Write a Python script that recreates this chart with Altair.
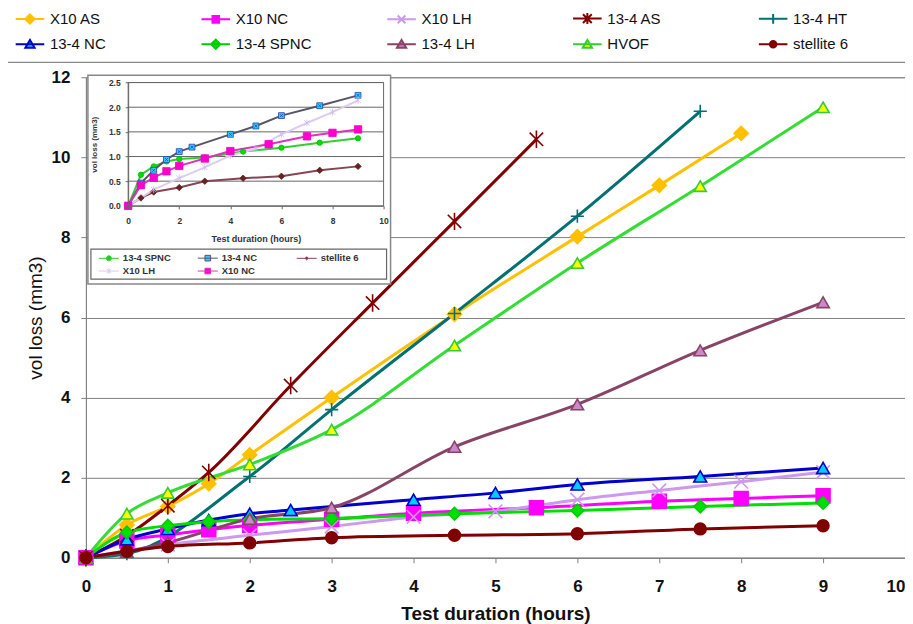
import altair as alt
import pandas as pd

# ---------------- data ----------------
series = ["X10 AS", "X10 NC", "X10 LH", "13-4 AS", "13-4 HT",
          "13-4 NC", "13-4 SPNC", "13-4 LH", "HVOF", "stellite 6"]
inset_series = ["13-4 SPNC", "13-4 NC", "stellite 6", "X10 LH", "X10 NC"]

x10_as_h = [0, 0.5, 1, 1.5, 2, 3, 4.5, 6, 7, 8]
x10_as_v = [0, 0.82, 1.28, 1.85, 2.57, 4.0, 6.08, 8.02, 9.3, 10.6]
x10_nc_h = [0, 0.5, 1, 1.5, 2, 3, 4, 5.5, 7, 8, 9]
x10_nc_v = [0, 0.42, 0.57, 0.7, 0.81, 0.96, 1.11, 1.25, 1.41, 1.48, 1.55]
x10_lh_h = [0, 1, 2, 3, 4, 5, 6, 7, 8, 9]
x10_lh_v = [0, 0.33, 0.56, 0.78, 1.02, 1.16, 1.45, 1.68, 1.9, 2.14]
as134_h = [0, 0.5, 1, 1.5, 2.5, 3.5, 4.5, 5.5]
as134_v = [0, 0.55, 1.3, 2.13, 4.3, 6.36, 8.4, 10.45]
ht134_h = [0, 0.5, 2, 3, 4.5, 6, 7.5]
ht134_v = [0, 0.1, 2.03, 3.7, 6.1, 8.53, 11.15]
nc134_h = [0, 0.5, 1, 1.5, 2, 2.5, 4, 5, 6, 7.5, 9]
nc134_v = [0, 0.46, 0.72, 0.94, 1.1, 1.19, 1.45, 1.62, 1.83, 2.03, 2.24]
spnc134_h = [0, 0.5, 1, 1.5, 2, 3, 4.5, 6, 7.5, 9]
spnc134_v = [0, 0.63, 0.8, 0.9, 0.95, 0.98, 1.1, 1.18, 1.28, 1.37]
lh134_h = [0, 0.5, 1, 2, 3, 4.5, 6, 7.5, 9]
lh134_v = [0, 0.15, 0.38, 0.97, 1.25, 2.77, 3.83, 5.18, 6.38]
hvof_h = [0, 0.5, 1, 2, 3, 4.5, 6, 7.5, 9]
hvof_v = [0, 1.1, 1.62, 2.33, 3.2, 5.3, 7.36, 9.28, 11.25]
st6_h = [0, 0.5, 1, 2, 3, 4.5, 6, 7.5, 9]
st6_v = [0, 0.16, 0.28, 0.37, 0.5, 0.56, 0.6, 0.72, 0.8]

x_ticks = [0, 1, 2, 3, 4, 5, 6, 7, 8, 9, 10]
y_ticks = [0, 2, 4, 6, 8, 10, 12]
inset_x_ticks = [0, 2, 4, 6, 8, 10]
inset_y_ticks = [0, 0.5, 1.0, 1.5, 2.0, 2.5]

data_h = {"X10 AS": x10_as_h, "X10 NC": x10_nc_h, "X10 LH": x10_lh_h,
          "13-4 AS": as134_h, "13-4 HT": ht134_h, "13-4 NC": nc134_h,
          "13-4 SPNC": spnc134_h, "13-4 LH": lh134_h, "HVOF": hvof_h,
          "stellite 6": st6_h}
data_v = {"X10 AS": x10_as_v, "X10 NC": x10_nc_v, "X10 LH": x10_lh_v,
          "13-4 AS": as134_v, "13-4 HT": ht134_v, "13-4 NC": nc134_v,
          "13-4 SPNC": spnc134_v, "13-4 LH": lh134_v, "HVOF": hvof_v,
          "stellite 6": st6_v}

rows = []
for i, s in enumerate(series):
    for h, v in zip(data_h[s], data_v[s]):
        rows.append({"series": s, "hours": h, "vol": v, "k": i})
main_df = pd.DataFrame(rows)

irows = []
for i, s in enumerate(inset_series):
    for h, v in zip(data_h[s], data_v[s]):
        irows.append({"iseries": s, "ih": h, "iv": v, "k": i})
inset_df = pd.DataFrame(irows)

one = pd.DataFrame({"a": [0]})
frame_df = pd.DataFrame({"ih": [inset_x_ticks[0]], "ih2": [inset_x_ticks[-1]],
                         "iv": [inset_y_ticks[0]], "iv2": [inset_y_ticks[-1]]})
grid_df = pd.DataFrame({"iv": inset_y_ticks[1:],
                        "ih": [inset_x_ticks[0]] * (len(inset_y_ticks) - 1),
                        "ih2": [inset_x_ticks[-1]] * (len(inset_y_ticks) - 1)})

# ---------------- styles ----------------
FONT = "Liberation Sans"
NARROW = "Liberation Sans Narrow, Arial Narrow, Liberation Sans"

line_color = ["#FFC000", "#FF00FF", "#CC99EE", "#800000", "#007070",
              "#0000CC", "#00E000", "#884466", "#33DD33", "#800000"]
line_width = [3, 3, 2, 3, 3, 3, 3, 1.5, 1.5, 1.5]
mk_fill = ["#FFC000", "#FF00FF", "#CC99EE", "#800000", "#007070",
           "#00CCFF", "#00E000", "#CC88CC", "#FFFF00", "#800000"]
mk_stroke = ["#FFC000", "#FF00FF", "#CC99EE", "#800000", "#007070",
             "#0000CC", "#00CC00", "#884466", "#33CC33", "#800000"]
P_X = "M-1,-1L1,1M-1,1L1,-1"
P_AST = "M-1,-1L1,1M-1,1L1,-1M0,-1.3V1.3"
P_PLUS = "M-1,0H1M0,-1V1"
mk_shape = ["diamond", "square", P_X, P_AST, P_PLUS,
            "triangle-up", "diamond", "triangle-up", "triangle-up", "circle"]
mk_size = [200, 140, 170, 300, 260, 250, 200, 110, 110, 90]

L = "M-1.3,0H1.3"
LD = L + "M0,-0.42L0.42,0L0,0.42L-0.42,0Z"
LS = L + "M-0.3,-0.3H0.3V0.3H-0.3Z"
LX = L + "M-0.35,-0.35L0.35,0.35M-0.35,0.35L0.35,-0.35"
LA = L + "M-0.4,-0.4L0.4,0.4M-0.4,0.4L0.4,-0.4M0,-0.5V0.5"
LP = L + "M0,-0.45V0.45"
LT = L + "M0,-0.4L0.42,0.32H-0.42Z"
LC = L + "M0.3,0A0.3,0.3 0 1,1 -0.3,0A0.3,0.3 0 1,1 0.3,0Z"
leg_shape = [LD, LS, LX, LA, LP, LT, LD, LT, LT, LC]

i_line = ["#33CC33", "#555566", "#884455", "#DDCCF0", "#DD33BB"]
i_fill = ["#00DD00", "#33CCFF", "#662222", "#DDCCF0", "#FF00CC"]
i_stroke = ["#00BB00", "#2244AA", "#662222", "#CCBBEE", "#EE00CC"]
P_SQX = "M-1,-1H1V1H-1ZM-0.5,-0.5L0.5,0.5M-0.5,0.5L0.5,-0.5"
P_STAR = "M0,-1V1M-0.8,-0.8L0.8,0.8M-0.8,0.8L0.8,-0.8"
i_shape = ["circle", P_SQX, "diamond", P_STAR, "square"]
i_size = [28, 55, 12, 30, 45]
IL = "M-1.6,0H1.6"
i_leg_shape = [IL + "M0.4,0A0.4,0.4 0 1,1 -0.4,0A0.4,0.4 0 1,1 0.4,0Z",
               IL + "M-0.45,-0.45H0.45V0.45H-0.45Z",
               IL + "M0,-0.25L0.25,0L0,0.25L-0.25,0Z",
               IL + "M0,-0.45V0.45M-0.35,-0.35L0.35,0.35M-0.35,0.35L0.35,-0.35",
               IL + "M-0.45,-0.45H0.45V0.45H-0.45Z"]

W, H = 820, 481

# ---------------- main chart ----------------
xs = alt.Scale(domain=[x_ticks[0], x_ticks[-1]], nice=False, zero=False)
ys = alt.Scale(domain=[y_ticks[0], y_ticks[-1]], nice=False, zero=False)

main_xaxis = alt.Axis(
    values=x_ticks, format="d", grid=False, labelFlush=False, labelFont=FONT,
    labelAlign=alt.ExprRef(expr="datum.value >= 10 ? 'right' : 'center'"),
    labelFontSize=17, labelFontWeight="bold", labelColor="#111", tickSize=5,
    tickColor="#808080", domainColor="#808080", labelPadding=16,
    title="Test duration (hours)", titleFont=FONT, titleFontSize=19,
    titleFontWeight="bold", titleColor="#111", titlePadding=10)
main_yaxis = alt.Axis(
    values=y_ticks, format="d", grid=True, gridColor="#808080", labelFlush=False,
    labelFont=FONT, labelFontSize=17, labelFontWeight="bold", labelColor="#111",
    tickSize=5, tickColor="#808080", domainColor="#808080",
    labelPadding=11, title="vol loss  (mm3)", titleFont=FONT,
    titleFontSize=19, titleFontWeight="normal", titleColor="#111",
    titlePadding=6)

main_lines = alt.Chart(main_df).mark_line(interpolate="monotone").encode(
    x=alt.X("hours:Q", scale=xs, axis=main_xaxis),
    y=alt.Y("vol:Q", scale=ys, axis=main_yaxis),
    color=alt.Color("series:N", scale=alt.Scale(domain=series, range=line_color), legend=None),
    strokeWidth=alt.StrokeWidth("series:N", scale=alt.Scale(domain=series, range=line_width), legend=None),
    detail="series:N",
)

main_points = alt.Chart(main_df).mark_point(opacity=1, strokeWidth=1.6).encode(
    x=alt.X("hours:Q", scale=xs, axis=main_xaxis),
    y=alt.Y("vol:Q", scale=ys, axis=main_yaxis),
    fill=alt.Fill("series:N", scale=alt.Scale(domain=series, range=mk_fill), legend=None),
    stroke=alt.Stroke("series:N", scale=alt.Scale(domain=series, range=mk_stroke), legend=None),
    shape=alt.Shape("series:N", scale=alt.Scale(domain=series, range=mk_shape), legend=None),
    size=alt.Size("series:N", scale=alt.Scale(domain=series, range=mk_size), legend=None),
    order=alt.Order("k:Q"),
)

main_group = alt.layer(main_lines, main_points)

# ---------------- inset ----------------
ixs = alt.Scale(domain=[inset_x_ticks[0], inset_x_ticks[-1]], range=[42.3, 298], nice=False, zero=False)
iys = alt.Scale(domain=[inset_y_ticks[0], inset_y_ticks[-1]], range=[128.7, 5.3], nice=False, zero=False)

inset_xaxis = alt.Axis(
    orient="bottom", offset=-(H - 128.7), values=inset_x_ticks, format="d",
    grid=False, zindex=2, labelFlush=False,
    labelFont=FONT, labelFontSize=8.5, labelFontWeight="bold",
    labelColor="#333", tickSize=3, tickColor="#666", domainColor="#666",
    labelPadding=8, title="Test duration (hours)", titleFont=FONT,
    titleFontSize=9, titleFontWeight="bold", titleColor="#333",
    titlePadding=9)
inset_yaxis = alt.Axis(
    orient="left", offset=-42.3, values=inset_y_ticks, format=".1f",
    grid=False, zindex=2, labelFlush=False, labelFont=FONT, labelFontSize=8.5,
    labelFontWeight="bold", labelColor="#333", tickSize=3,
    tickColor="#666", domainColor="#666", labelPadding=5,
    title="vol loss (mm3)", titleFont=FONT, titleFontSize=8,
    titleFontWeight="bold", titleColor="#333", titlePadding=10)

inset_bg = alt.Chart(one).mark_rect(fill="white", stroke="#888888", strokeWidth=1.5).encode(
    x=alt.value(2), x2=alt.value(305), y=alt.value(-2), y2=alt.value(207))

inset_frame = alt.Chart(frame_df).mark_rect(fill="white", stroke="#666666", strokeWidth=1).encode(
    x=alt.X("ih:Q", scale=ixs, axis=inset_xaxis), x2="ih2:Q",
    y=alt.Y("iv:Q", scale=iys, axis=inset_yaxis), y2="iv2:Q")

inset_grid = alt.Chart(grid_df).mark_rule(color="#666666", strokeWidth=1).encode(
    x=alt.X("ih:Q", scale=ixs, axis=inset_xaxis), x2="ih2:Q",
    y=alt.Y("iv:Q", scale=iys, axis=inset_yaxis))

inset_lines = alt.Chart(inset_df).mark_line().encode(
    x=alt.X("ih:Q", scale=ixs, axis=inset_xaxis),
    y=alt.Y("iv:Q", scale=iys, axis=inset_yaxis),
    color=alt.Color("iseries:N", scale=alt.Scale(domain=inset_series, range=i_line), legend=None),
    detail="iseries:N",
)

inset_points = alt.Chart(inset_df).mark_point(opacity=1, strokeWidth=0.8).encode(
    x=alt.X("ih:Q", scale=ixs, axis=inset_xaxis),
    y=alt.Y("iv:Q", scale=iys, axis=inset_yaxis),
    fill=alt.Fill("iseries:N", scale=alt.Scale(domain=inset_series, range=i_fill), legend=None),
    stroke=alt.Stroke("iseries:N", scale=alt.Scale(domain=inset_series, range=i_stroke), legend=None),
    shape=alt.Shape("iseries:N", scale=alt.Scale(domain=inset_series, range=i_shape), legend=None),
    size=alt.Size("iseries:N", scale=alt.Scale(domain=inset_series, range=i_size), legend=None),
)

inset_group = alt.layer(inset_frame, inset_grid, inset_lines, inset_points)

inset_leg_box = alt.Chart(one).mark_rect(fill="white", stroke="#666666", strokeWidth=1.2).encode(
    x=alt.value(5), x2=alt.value(301), y=alt.value(172), y2=alt.value(202))

main_leg_box = alt.Chart(one).mark_rect(fill="white", stroke="#888888", strokeWidth=1.2).encode(
    x=alt.value(-81), x2=alt.value(840), y=alt.value(-70), y2=alt.value(-15))

# ---------------- legends ----------------
main_leg = alt.Legend(title=None, orient="none", legendX=-68, legendY=-71,
                      direction="horizontal", columns=5, gridAlign="all",
                      columnPadding=71, rowPadding=4, symbolSize=484,
                      symbolStrokeWidth=2, labelFont=NARROW, labelFontSize=15,
                      labelColor="#111", labelOffset=8, padding=0)
legend_main = alt.Chart(main_df).transform_filter("false").mark_point(opacity=1, strokeWidth=2).encode(
    shape=alt.Shape("series:N", scale=alt.Scale(domain=series, range=leg_shape), legend=main_leg),
    fill=alt.Fill("series:N", scale=alt.Scale(domain=series, range=mk_fill), legend=main_leg),
    stroke=alt.Stroke("series:N", scale=alt.Scale(domain=series, range=mk_stroke), legend=main_leg),
)

inset_leg = alt.Legend(title=None, orient="none", legendX=16, legendY=174,
                       direction="horizontal", columns=3, gridAlign="all",
                       columnPadding=24, rowPadding=1, symbolSize=156,
                       symbolStrokeWidth=1, labelFont=FONT, labelFontSize=9.5,
                       labelFontWeight="bold", labelColor="#333", labelOffset=7,
                       padding=0)
legend_inset = alt.Chart(inset_df).transform_filter("false").mark_point(opacity=1, strokeWidth=1).encode(
    shape=alt.Shape("iseries:N", scale=alt.Scale(domain=inset_series, range=i_leg_shape), legend=inset_leg),
    fill=alt.Fill("iseries:N", scale=alt.Scale(domain=inset_series, range=i_fill), legend=inset_leg),
    stroke=alt.Stroke("iseries:N", scale=alt.Scale(domain=inset_series, range=i_line), legend=inset_leg),
)

chart = alt.layer(
    main_leg_box, main_group, inset_bg, inset_group, inset_leg_box,
    legend_main, legend_inset,
).resolve_scale(
    x="independent", y="independent", color="independent", fill="independent",
    stroke="independent", shape="independent", size="independent",
    strokeWidth="independent",
).properties(
    width=W, height=H,
    autosize=alt.AutoSizeParams(type="none"),
    padding={"left": 78, "top": 69, "right": 0, "bottom": 66},
    background="white",
).configure_view(stroke="#999999", strokeWidth=1)

chart.save("out.html", embed_options={"renderer": "svg", "actions": False})
